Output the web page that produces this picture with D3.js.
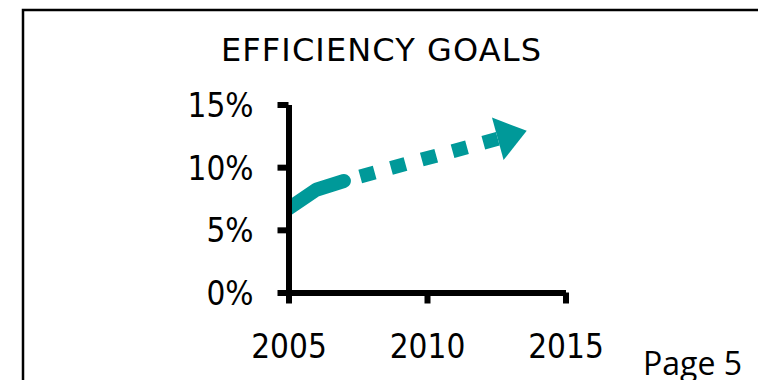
<!DOCTYPE html>
<html>
<head>
<meta charset="utf-8">
<script src="https://cdn.jsdelivr.net/npm/d3@7"></script>
<style>
  html, body { margin: 0; padding: 0; background: #fff; }
  svg { display: block; }
</style>
</head>
<body>
<svg id="chart" width="758" height="380"></svg>
<script>
// Efficiency goals: measured trend and projected target
const title = "EFFICIENCY GOALS";
const pageLabel = "Page 5";
const yearTicks = [2005, 2010, 2015];
const percentTicks = [0, 5, 10, 15];
const actualYears = [2005, 2006, 2007];
const actualValues = [6.7, 8.2, 8.9];
const projectionYears = [2007, 2013.6];
const projectionValues = [8.9, 12.9];

const svg = d3.select("#chart");
const teal = "#009999";
const condensed = "'DejaVu Sans Condensed', 'DejaVu Sans', sans-serif";

const x = d3.scaleLinear().domain([2005, 2015]).range([288.5, 565.5]);
const y = d3.scaleLinear().domain([0, 15]).range([292.5, 104.5]);

// frame
svg.append("path")
  .attr("d", "M23,380V10H758")
  .attr("fill", "none")
  .attr("stroke", "#000")
  .attr("stroke-width", 2.5);

// title
svg.append("text")
  .attr("x", 381).attr("y", 61)
  .attr("text-anchor", "middle")
  .attr("font-family", "'DejaVu Sans', sans-serif")
  .attr("font-size", 32)
  .attr("textLength", 320)
  .attr("lengthAdjust", "spacing")
  .text(title);

// clip so the series starts at the vertical axis
svg.append("clipPath").attr("id", "plot-clip")
  .append("rect")
  .attr("x", x(2005)).attr("y", 0)
  .attr("width", 758 - x(2005)).attr("height", 380);

const plot = svg.append("g").attr("clip-path", "url(#plot-clip)");

const actual = actualYears.map((yr, i) => [x(yr), y(actualValues[i])]);
plot.append("path")
  .attr("d", d3.line()(actual))
  .attr("fill", "none")
  .attr("stroke", teal)
  .attr("stroke-width", 14)
  .attr("stroke-linecap", "round")
  .attr("stroke-linejoin", "round");

// projection: square dots ending in an arrowhead at the target
const p0 = [x(projectionYears[0]), y(projectionValues[0])];
const tip = [x(projectionYears[1]), y(projectionValues[1])];
const dx = tip[0] - p0[0], dy = tip[1] - p0[1];
const len = Math.hypot(dx, dy);
const ux = dx / len, uy = dy / len;
const headLen = 30, headHalf = 22;
const base = [tip[0] - ux * headLen, tip[1] - uy * headLen];
const shaftLen = len - headLen;
const dashCount = 5, dash = 15;
const period = shaftLen / dashCount;

plot.append("path")
  .attr("d", d3.line()([p0, base]))
  .attr("fill", "none")
  .attr("stroke", teal)
  .attr("stroke-width", 14)
  .attr("stroke-dasharray", `${dash} ${period - dash}`)
  .attr("stroke-dashoffset", dash);

plot.append("path")
  .attr("d", d3.line()([
    tip,
    [base[0] - uy * headHalf, base[1] + ux * headHalf],
    [base[0] + uy * headHalf, base[1] - ux * headHalf]
  ]) + "Z")
  .attr("fill", teal);

// axes
const yAxis = d3.axisLeft(y)
  .tickValues(percentTicks)
  .tickFormat(d => d + "%")
  .tickSize(11)
  .tickSizeOuter(0)
  .tickPadding(24);

const xAxis = d3.axisBottom(x)
  .tickValues(yearTicks)
  .tickFormat(d3.format("d"))
  .tickSize(11)
  .tickSizeOuter(0)
  .tickPadding(31);

const gy = svg.append("g").attr("transform", `translate(${x(2005)},0)`).call(yAxis);
const gx = svg.append("g").attr("transform", `translate(0,${y(0)})`).call(xAxis);

[gx, gy].forEach(g => {
  g.selectAll("path.domain, .tick line")
    .attr("stroke", "#000")
    .attr("stroke-width", 6);
  g.selectAll(".tick text")
    .attr("fill", "#000")
    .attr("font-family", condensed)
    .attr("font-size", 33);
});
gy.selectAll(".tick text").attr("dy", "0.36em");

// page footer
svg.append("text")
  .attr("x", 643).attr("y", 375)
  .attr("font-family", "'Open Sans', sans-serif")
  .attr("font-size", 32)
  .attr("fill", "#000")
  .text(pageLabel);
</script>
</body>
</html>
